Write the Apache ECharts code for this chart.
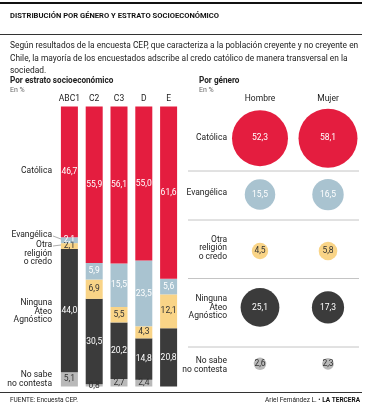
<!DOCTYPE html>
<html><head><meta charset="utf-8">
<script src="https://cdn.jsdelivr.net/npm/echarts@6/dist/echarts.min.js"></script>
<style>html,body{margin:0;padding:0;background:#fff}#c{width:366px;height:415px}</style>
</head><body><div id="c"></div>
<script>
// ---- data ----
var estratos = ['ABC1', 'C2', 'C3', 'D', 'E'];
var catolica   = [46.7, 55.9, 56.1, 55.0, 61.6];
var evangelica = [2.1, 5.9, 15.5, 23.5, 5.6];
var otra       = [2.1, 6.9, 5.5, 4.3, 12.1];
var ninguna    = [44.0, 30.5, 20.2, 14.8, 20.8];
var nosabe     = [5.1, 0.8, 2.7, 2.4, 0];

var generos = ['Hombre', 'Mujer'];
var grupos = ['Católica', 'Evangélica', 'Otra religión o credo', 'Ninguna Ateo Agnóstico', 'No sabe no contesta'];
var hombre = [52.3, 15.5, 4.5, 25.1, 2.6];
var mujer  = [58.1, 16.5, 5.8, 17.3, 2.3];

var colors = {cat:'#e41d3f', eva:'#a9c3d0', otra:'#f9d487', nin:'#3b3b3b', nos:'#b9b9b9'};
var FONT = "'Liberation Sans Narrow','Roboto','Liberation Sans',sans-serif";

function fmt(v){ return String(v.toFixed(1)).replace('.', ','); }

function barSeries(name, data, color, txt){
  return {
    name: name, type: 'bar', stack: 'a', data: data, barWidth: 17,
    xAxisIndex: 0, yAxisIndex: 0,
    itemStyle: {color: color},
    label: {show: true, position: 'inside', fontFamily: FONT, fontSize: 8.5, color: txt,
      formatter: function(p){ return p.value > 0 ? fmt(p.value) : ''; }},
    emphasis: {disabled: true}
  };
}

var bubbleColors = [colors.cat, colors.eva, colors.otra, colors.nin, colors.nos];
var bubbleText = ['#fff', '#fff', '#333', '#fff', '#333'];
function bubbleData(vals, gi){
  return vals.map(function(v, i){
    return {value: [gi, i, v], itemStyle: {color: bubbleColors[i], opacity: 1},
      label: {color: bubbleText[i]}};
  });
}
function bubbleSeries(vals, gi){
  return {
    type: 'scatter', xAxisIndex: 1, yAxisIndex: 1,
    data: bubbleData(vals, gi),
    itemStyle: {opacity: 1},
    symbolSize: function(d){ return 7.74 * Math.sqrt(d[2]); },
    label: {show: true, position: 'inside', fontFamily: FONT, fontSize: 8.5,
      formatter: function(p){ return fmt(p.value[2]); }},
    emphasis: {disabled: true}
  };
}

var t = function(x, y, text, opt){
  opt = opt || {};
  return {type: 'text', x: x, y: y, silent: true, style: Object.assign({
    text: text, fontFamily: FONT, fontSize: 8.5, fill: '#222',
    textAlign: 'left', textVerticalAlign: 'middle'}, opt)};
};
var ln = function(x1, y1, x2, y2, col, w){
  return {type: 'line', silent: true, shape: {x1: x1, y1: y1, x2: x2, y2: y2},
    style: {stroke: col, lineWidth: w}};
};

var graphics = [
  ln(0, 3, 362, 3, '#111', 2),
  t(10, 16, 'DISTRIBUCIÓN POR GÉNERO Y ESTRATO SOCIOECONÓMICO', {fontWeight: 'bold', fontSize: 7.6, fill: '#111'}),
  ln(0, 34.5, 362, 34.5, '#333', 1),
  t(10, 46, 'Según resultados de la encuesta CEP, que caracteriza a la población creyente y no creyente en', {fontSize: 8.4}),
  t(10, 58.5, 'Chile, la mayoría de los encuestados adscribe al credo católico de manera transversal en la', {fontSize: 8.4}),
  t(10, 71, 'sociedad.', {fontSize: 8.4}),
  t(10, 81, 'Por estrato socioeconómico', {fontWeight: 'bold', fontSize: 8.2}),
  t(10, 90.5, 'En %', {fontSize: 7, fill: '#666'}),
  t(199, 81, 'Por género', {fontWeight: 'bold', fontSize: 8.2}),
  t(199, 90.5, 'En %', {fontSize: 7, fill: '#666'}),
  // left row labels
  t(52, 171, 'Católica', {textAlign: 'right'}),
  t(52, 235, 'Evangélica', {textAlign: 'right'}),
  ln(53, 236, 61, 239, '#888', 0.7),
  t(52, 245, 'Otra', {textAlign: 'right'}),
  t(52, 254, 'religión', {textAlign: 'right'}),
  t(52, 262, 'o credo', {textAlign: 'right'}),
  ln(53, 246, 61, 245, '#888', 0.7),
  t(52, 303, 'Ninguna', {textAlign: 'right'}),
  t(52, 311.5, 'Ateo', {textAlign: 'right'}),
  t(52, 320, 'Agnóstico', {textAlign: 'right'}),
  t(52, 375, 'No sabe', {textAlign: 'right'}),
  t(52, 384, 'no contesta', {textAlign: 'right'}),
  // right row labels
  t(227, 138, 'Católica', {textAlign: 'right'}),
  t(227, 193, 'Evangélica', {textAlign: 'right'}),
  t(227, 239.5, 'Otra', {textAlign: 'right'}),
  t(227, 248, 'religión', {textAlign: 'right'}),
  t(227, 256.5, 'o credo', {textAlign: 'right'}),
  t(227, 299, 'Ninguna', {textAlign: 'right'}),
  t(227, 307.5, 'Ateo', {textAlign: 'right'}),
  t(227, 316, 'Agnóstico', {textAlign: 'right'}),
  t(227, 361, 'No sabe', {textAlign: 'right'}),
  t(227, 369.5, 'no contesta', {textAlign: 'right'}),
  ln(188, 171, 359, 171, '#c4c4c4', 1),
  ln(188, 220, 359, 220, '#c4c4c4', 1),
  ln(188, 278.5, 359, 278.5, '#c4c4c4', 1),
  ln(188, 347, 359, 347, '#c4c4c4', 1),
  ln(0, 392.5, 362, 392.5, '#333', 1),
  t(10, 400, 'FUENTE: Encuesta CEP.', {fontSize: 6.5}),
  {type: 'text', x: 360, y: 400, silent: true, style: {
    text: '{a|Ariel Fernández L. • }{b|LA TERCERA}', textAlign: 'right', textVerticalAlign: 'middle',
    rich: {a: {fontFamily: FONT, fontSize: 6.5, fill: '#222'}, b: {fontFamily: FONT, fontSize: 6.5, fontWeight: 'bold', fill: '#111'}}}}
];

var chart = echarts.init(document.getElementById('c'), null, {renderer: 'canvas'});
chart.setOption({
  animation: false,
  backgroundColor: '#fff',
  textStyle: {fontFamily: FONT},
  grid: [
    {left: 57, top: 106.5, width: 124, height: 280},
    {left: 226, top: 110, width: 136, height: 282}
  ],
  xAxis: [
    {gridIndex: 0, type: 'category', data: estratos, position: 'top',
      axisLine: {show: false}, axisTick: {show: false},
      axisLabel: {interval: 0, margin: 3, fontFamily: FONT, fontSize: 8.5, color: '#222'}},
    {gridIndex: 1, type: 'category', data: generos, position: 'top',
      axisLine: {show: false}, axisTick: {show: false},
      axisLabel: {interval: 0, margin: 7, fontFamily: FONT, fontSize: 8.5, color: '#222'}}
  ],
  yAxis: [
    {gridIndex: 0, type: 'value', min: 0, max: 100, show: false},
    {gridIndex: 1, type: 'category', data: grupos, inverse: true, show: false}
  ],
  series: [
    barSeries('No sabe', nosabe, colors.nos, '#333'),
    barSeries('Ninguna', ninguna, colors.nin, '#fff'),
    barSeries('Otra', otra, colors.otra, '#333'),
    barSeries('Evangélica', evangelica, colors.eva, '#fff'),
    barSeries('Católica', catolica, colors.cat, '#fff'),
    bubbleSeries(hombre, 0),
    bubbleSeries(mujer, 1)
  ],
  graphic: graphics
});
</script>
</body></html>
